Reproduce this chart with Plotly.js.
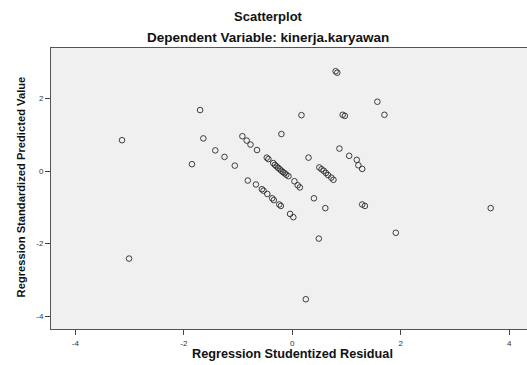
<!DOCTYPE html>
<html>
<head>
<meta charset="utf-8">
<script src="https://cdn.plot.ly/plotly-3.0.1.min.js"></script>
<style>html,body{margin:0;padding:0;background:#fff;}#chart{width:527px;height:365px;}</style>
</head>
<body>
<div id="chart"></div>
<script>
const residual = [-3.14,-3.01,-1.70,-1.64,-1.85,-1.42,-1.25,-1.06,-0.92,-0.84,-0.77,-0.65,-0.47,-0.44,
  -0.35,-0.32,-0.29,-0.26,-0.23,-0.20,-0.17,-0.14,-0.11,-0.07,
  0.04,0.10,0.14,-0.20,0.17,0.80,0.83,1.57,1.70,0.93,0.97,0.30,0.87,1.05,1.19,1.22,1.29,
  0.50,0.54,0.58,0.62,0.66,0.72,0.76,
  0.40,0.61,1.29,1.34,3.66,0.49,1.91,0.25,
  -0.82,-0.67,-0.56,-0.53,-0.46,-0.37,-0.34,-0.24,-0.21,-0.04,0.02];
const predicted = [0.85,-2.41,1.68,0.90,0.19,0.57,0.39,0.15,0.96,0.84,0.73,0.58,0.37,0.33,
  0.22,0.17,0.13,0.09,0.05,0.01,-0.03,-0.06,-0.10,-0.14,
  -0.28,-0.39,-0.45,1.02,1.54,2.75,2.71,1.91,1.55,1.55,1.52,0.37,0.62,0.42,0.31,0.16,0.06,
  0.10,0.05,0.01,-0.05,-0.11,-0.18,-0.24,
  -0.75,-1.02,-0.92,-0.96,-1.02,-1.86,-1.70,-3.53,
  -0.26,-0.37,-0.50,-0.54,-0.63,-0.75,-0.80,-0.92,-0.96,-1.18,-1.27];
const xTicks = [-4,-2,0,2,4];
const yTicks = [-4,-2,0,2];
const titleText = "Scatterplot";
const subtitleText = "Dependent Variable: kinerja.karyawan";
const xTitle = "Regression Studentized Residual";
const yTitle = "Regression Standardized Predicted Value";

const font = "Liberation Sans, Arial, sans-serif";
const trace = {
  x: residual, y: predicted, type: 'scatter', mode: 'markers',
  marker: {symbol: 'circle-open', size: 5.6, color: '#2a2a2a', line: {width: 0.9, color: '#2a2a2a'}},
  hoverinfo: 'none'
};
const layout = {
  width: 527, height: 365,
  margin: {l: 51, r: 0, t: 48, b: 36},
  paper_bgcolor: '#ffffff', plot_bgcolor: '#f0f0f0',
  showlegend: false,
  font: {family: font, color: '#222'},
  xaxis: {range: [-4.45, 4.33], tickvals: xTicks, ticktext: xTicks.map(String),
    ticks: 'outside', ticklen: 5, tickcolor: '#444', tickwidth: 1, ticklabelstandoff: 1,
    showline: true, linecolor: '#555', linewidth: 1, mirror: true,
    showgrid: false, zeroline: false, tickfont: {size: 8, color: '#333', family: font}},
  yaxis: {range: [-4.35, 3.39], tickvals: yTicks, ticktext: yTicks.map(String),
    ticks: 'outside', ticklen: 5, tickcolor: '#444', tickwidth: 1,
    showline: true, linecolor: '#555', linewidth: 1,
    showgrid: false, zeroline: false, tickfont: {size: 8, color: '#333', family: font}},
  annotations: [
    {text: '<b>' + titleText + '</b>', xref: 'paper', yref: 'paper', x: 0.456, y: 1, yshift: 32,
      xanchor: 'center', yanchor: 'middle', showarrow: false, font: {size: 13, family: font, color: '#111'}},
    {text: '<b>' + subtitleText + '</b>', xref: 'paper', yref: 'paper', x: 0.456, y: 1, yshift: 11,
      xanchor: 'center', yanchor: 'middle', showarrow: false, font: {size: 13.5, family: font, color: '#111'}},
    {text: '<b>' + xTitle + '</b>', xref: 'x', yref: 'paper', x: 0, y: 0, yshift: -25,
      xanchor: 'center', yanchor: 'middle', showarrow: false, font: {size: 12.7, family: font, color: '#111'}},
    {text: '<b>' + yTitle + '</b>', xref: 'paper', yref: 'y', x: 0, y: -0.45, xshift: -30,
      xanchor: 'center', yanchor: 'middle', textangle: -90, showarrow: false, font: {size: 11.2, family: font, color: '#111'}}
  ]
};
Plotly.newPlot('chart', [trace], layout, {displayModeBar: false, staticPlot: true});
</script>
</body>
</html>
